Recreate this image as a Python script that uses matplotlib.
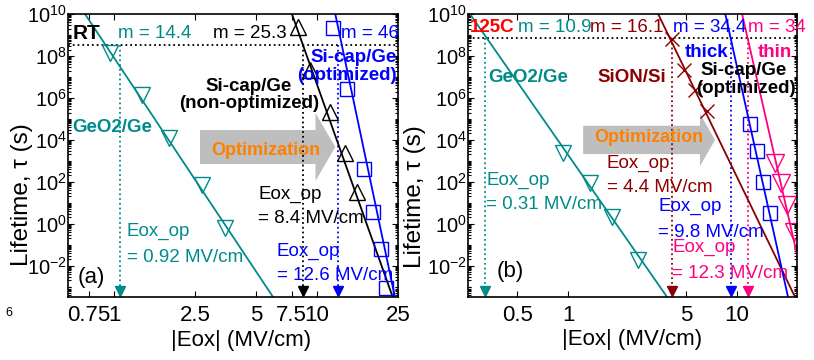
import numpy as np
import matplotlib
matplotlib.use("Agg")
import matplotlib.pyplot as plt
from matplotlib.ticker import FixedLocator, NullLocator, LogLocator, LogFormatterSciNotation, NullFormatter
from matplotlib.patches import FancyArrow
import matplotlib.transforms as mtrans

plt.rcParams['font.family'] = ['Liberation Sans', 'DejaVu Sans']
plt.rcParams['mathtext.default'] = 'regular'

# ---- data: panel (a), RT ----
a_geo_E = [0.956, 1.374, 1.866, 2.71, 3.52]
a_geo_tau = [1.4e8, 1.4e6, 1.2e4, 69, 0.62]
a_non_E = [8.06, 9.22, 11.6, 13.7, 15.7]
a_non_tau = [2.4e9, 2.1e7, 2.1e5, 2.3e3, 32]
a_opt_E = [11.97, 14.0, 17.0, 18.9, 20.6, 21.8]
a_opt_tau = [2.1e9, 2.6e6, 400, 3.5, 0.062, 8.5e-4]
# fit lines (end points)
a_geo_fitE = [0.719, 6.07]
a_non_fitE = [7.52, 23.6]
a_opt_fitE = [12.3, 24.2]
fit_tau = [1e10, 10**-3.5]
# E_op arrows
a_op = [1.07, 8.5, 12.7]
a_op_txt = ['0.92', '8.4', '12.6']
a_m = ['14.4', '25.3', '46']

# ---- data: panel (b), 125C ----
b_geo_E = [0.934, 1.35, 1.82, 2.59]
b_geo_tau = [2.3e3, 87, 2.0, 0.018]
b_sion_E = [4.12, 4.85, 5.64, 6.64]
b_sion_tau = [6.5e8, 2.1e7, 2.3e6, 2.3e5]
b_thick_E = [11.96, 13.1, 14.3, 15.7]
b_thick_tau = [5.6e4, 2.9e3, 95, 3.2]
b_thin_E = [16.8, 18.2, 19.8, 21.6]
b_thin_tau = [780, 87, 7.8, 0.40]
b_geo_fitE = [0.263, 3.85]
b_sion_fitE = [3.41, 22.0]
b_thick_fitE = [8.51, 20.0]
b_thin_fitE = [10.7, 25.8]
b_op = [0.323, 4.12, 9.22, 11.6]
b_op_txt = ['0.31', '4.4', '9.8', '12.3']
b_m = ['10.9', '16.1', '34.4', '34']

tau_10y_a = 3.15e8
tau_10y_b = 7.1e8

teal = '#008B8B'
blue = '#0000FF'
brown = '#8B0000'
pink = '#FF0080'
orange = '#FF8000'

W, H = 814, 360
fig = plt.figure(figsize=(W/100, H/100), dpi=100)

def mkax(left, right, top=14, bottom=297):
    return fig.add_axes([left/W, (H-bottom)/H, (right-left)/W, (bottom-top)/H])

axa = mkax(68, 398)
axb = mkax(468, 797)

def style(ax, xl, xt, xtl):
    ax.set_xscale('log')
    ax.set_yscale('log')
    ax.set_xlim(*xl)
    ax.set_ylim(10**-3.5, 1e10)
    ax.xaxis.set_major_locator(FixedLocator(xt))
    ax.xaxis.set_minor_locator(NullLocator())
    ax.set_xticklabels(xtl)
    ax.yaxis.set_major_locator(FixedLocator([10.0**k for k in range(-2, 11, 2)]))
    ax.yaxis.set_major_formatter(LogFormatterSciNotation())
    ax.yaxis.set_minor_locator(LogLocator(base=10, subs=np.arange(1, 10), numticks=40))
    ax.yaxis.set_minor_formatter(NullFormatter())
    ax.tick_params(which='both', direction='in', top=True, right=True, width=0.8)
    ax.tick_params(which='major', length=4)
    ax.tick_params(which='minor', length=2)
    ax.tick_params(axis='y', labelsize=14.5, pad=1)
    ax.tick_params(axis='x', labelsize=16, pad=6)
    for s in ax.spines.values():
        s.set_linewidth(1.2)
    ax.set_xlabel('|Eox| (MV/cm)', fontsize=16, labelpad=0)
    ax.set_ylabel('Lifetime, τ (s)', fontsize=17.5)

style(axa, (0.593, 25.06), [0.75, 1, 2.5, 5, 7.5, 10, 25],
      ['0.75', '1', '2.5', '5', '7.5', '10', '25'])
style(axb, (0.256, 22.6), [0.5, 1, 5, 10], ['0.5', '1', '5', '10'])
axa.yaxis.set_label_coords(-0.106, 0.36)
axb.yaxis.set_label_coords(-0.128, 0.355)
axa.xaxis.set_label_coords(0.525, -0.118)
axb.xaxis.set_label_coords(0.50, -0.113)

def op_arrow(ax, E, tau, col):
    ax.plot([E, E], [tau, 10**-3.5], ls=':', color=col, lw=1.3)
    tr = mtrans.blended_transform_factory(ax.transData, ax.transAxes)
    ax.plot([E], [0.02], marker='v', ms=7, color=col, transform=tr, clip_on=False)

def axtxt(ax, left, px, py, s, **kw):
    w = ax.get_position().width * W
    ax.text((px-left)/w, (297-py)/283, s, transform=ax.transAxes, **kw)

# ---- panel (a) ----
ax = axa
ax.axhline(tau_10y_a, ls=':', color='k', lw=1.3)
for E, c in zip(a_op, [teal, 'k', blue]):
    op_arrow(ax, E, tau_10y_a, c)
ax.plot(a_geo_fitE, fit_tau, color=teal, lw=1.3)
ax.plot(a_non_fitE, fit_tau, color='k', lw=1.3)
ax.plot(a_opt_fitE, fit_tau, color=blue, lw=1.3)
ax.plot(a_geo_E, a_geo_tau, ls='none', marker='v', ms=12, mfc='none', mec=teal, mew=1)
ax.plot(a_non_E, a_non_tau, ls='none', marker='^', ms=12, mfc='none', mec='k', mew=1)
ax.plot(a_opt_E, a_opt_tau, ls='none', marker='s', ms=9.5, mfc='none', mec=blue, mew=1)
ax.add_patch(FancyArrow(0.40, 0.53, 0.35, 0, width=0.12, head_width=0.24,
                        head_length=0.06, transform=ax.transAxes,
                        color='#BEBEBE', lw=0, length_includes_head=False))
L = 68
ft = 13.5
axtxt(ax, L, 73, 33, 'RT', fontsize=15, fontweight='bold', va='center')
axtxt(ax, L, 118, 33, 'm = ' + a_m[0], color=teal, fontsize=ft, va='center')
axtxt(ax, L, 213, 33, 'm = ' + a_m[1], color='k', fontsize=ft, va='center')
axtxt(ax, L, 341, 33, 'm = ' + a_m[2], color=blue, fontsize=ft, va='center')
axtxt(ax, L, 397, 57, 'Si-cap/Ge', color=blue, fontsize=ft, fontweight='bold', va='center', ha='right')
axtxt(ax, L, 397, 75, '(optimized)', color=blue, fontsize=ft, fontweight='bold', va='center', ha='right')
axtxt(ax, L, 249, 86, 'Si-cap/Ge', color='k', fontsize=ft, fontweight='bold', va='center', ha='center')
axtxt(ax, L, 249, 103, '(non-optimized)', color='k', fontsize=ft, fontweight='bold', va='center', ha='center')
axtxt(ax, L, 72, 127, 'GeO2/Ge', color=teal, fontsize=ft, fontweight='bold', va='center')
axtxt(ax, L, 266, 150, 'Optimization', color=orange, fontsize=13, fontweight='bold', va='center', ha='center')
axtxt(ax, L, 258, 194, 'Eox_op', color='k', fontsize=ft, va='center')
axtxt(ax, L, 258, 218, '= ' + a_op_txt[1] + ' MV/cm', color='k', fontsize=ft, va='center')
axtxt(ax, L, 277, 251, 'Eox_op', color=blue, fontsize=ft, va='center')
axtxt(ax, L, 277, 275, '= ' + a_op_txt[2] + ' MV/cm', color=blue, fontsize=ft, va='center')
axtxt(ax, L, 127, 231, 'Eox_op', color=teal, fontsize=ft, va='center')
axtxt(ax, L, 127, 257, '= ' + a_op_txt[0] + ' MV/cm', color=teal, fontsize=ft, va='center')
axtxt(ax, L, 78, 277, '(a)', color='k', fontsize=16, va='center')

# ---- panel (b) ----
ax = axb
ax.axhline(tau_10y_b, ls=':', color='k', lw=1.3)
for E, c in zip(b_op, [teal, brown, blue, pink]):
    op_arrow(ax, E, tau_10y_b, c)
ax.plot(b_geo_fitE, fit_tau, color=teal, lw=1.3)
ax.plot(b_sion_fitE, fit_tau, color=brown, lw=1.3)
ax.plot(b_thick_fitE, fit_tau, color=blue, lw=1.3)
ax.plot(b_thin_fitE, fit_tau, color=pink, lw=1.3)
ax.plot(b_geo_E, b_geo_tau, ls='none', marker='v', ms=12, mfc='none', mec=teal, mew=1)
ax.plot(b_sion_E, b_sion_tau, ls='none', marker='x', ms=10, mec=brown, mew=1)
ax.plot(b_thick_E, b_thick_tau, ls='none', marker='s', ms=9.5, mfc='none', mec=blue, mew=1)
ax.plot(b_thin_E, b_thin_tau, ls='none', marker='v', ms=12.5, mfc='none', mec=pink, mew=1)
ax.add_patch(FancyArrow(0.35, 0.555, 0.355, 0, width=0.10, head_width=0.185,
                        head_length=0.046, transform=ax.transAxes,
                        color='#BEBEBE', lw=0, length_includes_head=False))
L = 468
axtxt(ax, L, 470, 27, '125C', color='#FF0000', fontsize=13.5, fontweight='bold', va='center')
axtxt(ax, L, 518, 27, 'm = ' + b_m[0], color=teal, fontsize=ft, va='center')
axtxt(ax, L, 590, 27, 'm = ' + b_m[1], color=brown, fontsize=ft, va='center')
axtxt(ax, L, 673, 27, 'm = ' + b_m[2], color=blue, fontsize=ft, va='center')
axtxt(ax, L, 748, 27, 'm = ' + b_m[3], color=pink, fontsize=ft, va='center')
axtxt(ax, L, 685, 52, 'thick', color=blue, fontsize=ft, fontweight='bold', va='center')
axtxt(ax, L, 758, 52, 'thin', color=pink, fontsize=ft, fontweight='bold', va='center')
axtxt(ax, L, 744, 70, 'Si-cap/Ge', color='k', fontsize=ft, fontweight='bold', va='center', ha='center')
axtxt(ax, L, 746, 88, '(optimized)', color='k', fontsize=ft, fontweight='bold', va='center', ha='center')
axtxt(ax, L, 597, 77, 'SiON/Si', color=brown, fontsize=ft, fontweight='bold', va='center')
axtxt(ax, L, 488, 77, 'GeO2/Ge', color=teal, fontsize=ft, fontweight='bold', va='center')
axtxt(ax, L, 649, 137, 'Optimization', color=orange, fontsize=13, fontweight='bold', va='center', ha='center')
axtxt(ax, L, 607, 163, 'Eox_op', color=brown, fontsize=ft, va='center')
axtxt(ax, L, 607, 187, '= ' + b_op_txt[1] + ' MV/cm', color=brown, fontsize=ft, va='center')
axtxt(ax, L, 486, 180, 'Eox_op', color=teal, fontsize=ft, va='center')
axtxt(ax, L, 486, 204, '= ' + b_op_txt[0] + ' MV/cm', color=teal, fontsize=ft, va='center')
axtxt(ax, L, 658, 206, 'Eox_op', color=blue, fontsize=ft, va='center')
axtxt(ax, L, 658, 232, '= ' + b_op_txt[2] + ' MV/cm', color=blue, fontsize=ft, va='center')
axtxt(ax, L, 672, 247, 'Eox_op', color=pink, fontsize=ft, va='center')
axtxt(ax, L, 672, 274, '= ' + b_op_txt[3] + ' MV/cm', color=pink, fontsize=ft, va='center')
axtxt(ax, L, 497, 272, '(b)', color='k', fontsize=16, va='center')

fig.text(5/W, 1 - 313/H, '6', fontsize=9, va='center')

fig.savefig('out.png', dpi=100)
